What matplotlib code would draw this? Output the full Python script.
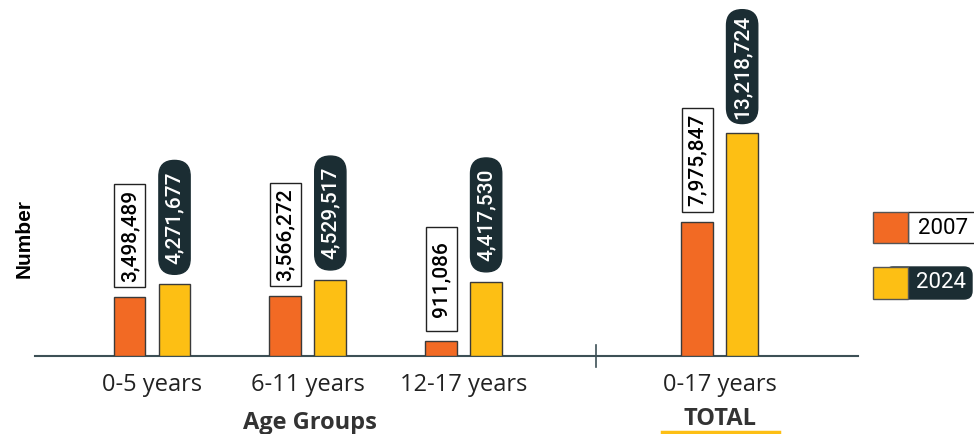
import matplotlib
matplotlib.use("Agg")
import matplotlib.pyplot as plt
from matplotlib.patches import Rectangle, FancyBboxPatch, BoxStyle
from matplotlib.lines import Line2D
from matplotlib.transforms import Affine2D, blended_transform_factory
import numpy as np

# ---- data ----
categories = ["0-5 years", "6-11 years", "12-17 years", "0-17 years"]
years = ["2007", "2024"]
values_2007 = [3498489, 3566272, 911086, 7975847]
values_2024 = [4271677, 4529517, 4417530, 13218724]
total_label = "TOTAL"
x_title = "Age Groups"
y_title = "Number"

# ---- style ----
ORANGE = "#F26A24"
YELLOW = "#FDBF14"
DARK = "#1B2D33"
AXIS = "#3D5056"
LABEL_FONT = ["Roboto", "DejaVu Sans"]
CAT_FONT = ["Open Sans", "DejaVu Sans"]

W, H = 974, 434
fig = plt.figure(figsize=(W / 100, H / 100), dpi=100)
PX = Affine2D().scale(1 / W, -1 / H).translate(0, 1) + fig.transFigure

ax = fig.add_axes([35 / W, 78 / H, 823 / W, 356 / H])

pos = np.array([0, 1, 2, 3.643])
bw = 0.205
off = 0.1444
ax.bar(pos - off, values_2007, bw, color=ORANGE, edgecolor="#3a3a3a", linewidth=1, zorder=3)
ax.bar(pos + off, values_2024, bw, color=YELLOW, edgecolor="#3a3a3a", linewidth=1, zorder=3)
ax.set_xlim(-0.751, 4.531)
ax.set_ylim(0, 21.13e6)

FS = 15.0


def make_box(length_pt, thick_pt, round_ends):
    # fixed-size box centred on the text (sizes in points, scaled via mutation_size)
    def style(x0, y0, width, height, mutation_size):
        k = mutation_size / FS
        L = length_pt * k
        T = thick_pt * k
        cx = x0 + width / 2
        cy = y0 + height / 2
        bx0, by0 = cx - L / 2, cy - T / 2
        if round_ends:
            rs = (T / 2) / mutation_size
            return BoxStyle.Round(pad=0, rounding_size=rs)(bx0, by0, L, T, mutation_size)
        return BoxStyle.Square(pad=0)(bx0, by0, L, T, mutation_size)
    return style


BOX_L, PILL_L, THICK = 74.5, 82.0, 22.5   # points
GAP = 7.0                                   # points between bar top and box
for x, v in zip(pos - off, values_2007):
    ax.annotate(f"{v:,}", xy=(x, v), xytext=(0, GAP + BOX_L / 2), textcoords="offset points",
                rotation=90, ha="center", va="center", fontsize=FS, family=LABEL_FONT,
                fontweight="medium", color="black", zorder=5,
                bbox=dict(boxstyle=make_box(BOX_L, THICK, False), fc="white", ec="#222", lw=1))
for x, v in zip(pos + off, values_2024):
    ax.annotate(f"{v:,}", xy=(x, v), xytext=(0, GAP + PILL_L / 2), textcoords="offset points",
                rotation=90, ha="center", va="center", fontsize=FS, family=LABEL_FONT,
                fontweight="medium", color="white", zorder=5,
                bbox=dict(boxstyle=make_box(PILL_L, THICK, True), fc=DARK, ec=DARK, lw=1))

ax.set_xticks(pos, categories, fontsize=17, family=CAT_FONT, color="#222")
ax.tick_params(axis="x", length=0, pad=12)
ax.set_yticks([])
for s in ["left", "right", "top"]:
    ax.spines[s].set_visible(False)
ax.spines["bottom"].set_color(AXIS)
ax.spines["bottom"].set_linewidth(1.5)

sep = blended_transform_factory(ax.transData, ax.transAxes)
ax.plot([2.85, 2.85], [-0.032, 0.032], transform=sep, color=AXIS, lw=1.2, clip_on=False)

# titles
fig.text(24, 239, y_title, transform=PX, rotation=90, ha="center", va="center",
         fontsize=15, fontweight="bold", family=["Liberation Sans", "DejaVu Sans"], color="black")
fig.text(310, 411, x_title, transform=PX, ha="center", va="top",
         fontsize=17, fontweight="bold", family=CAT_FONT, color="#333")
fig.text(720, 425, total_label, transform=PX, ha="center", va="baseline",
         fontsize=17, fontweight="bold", family=CAT_FONT, color="#333")
fig.add_artist(Line2D([662, 779], [432, 432], transform=PX, color=YELLOW, lw=2.5))

# legend
fig.add_artist(Rectangle((908, 212), 70, 31, transform=PX, fc="white", ec="#222", lw=1))
fig.add_artist(Rectangle((873, 212), 35, 31, transform=PX, fc=ORANGE, ec="#555", lw=1))
fig.add_artist(FancyBboxPatch((885, 267), 87, 32, boxstyle="round,pad=0,rounding_size=8",
                              transform=PX, fc=DARK, ec=DARK, lw=1))
fig.add_artist(Rectangle((873, 267), 35, 32, transform=PX, fc=YELLOW, ec="#555", lw=1))
fig.text(943, 228, years[0], transform=PX, ha="center", va="center", fontsize=16,
         family=["Roboto", "DejaVu Sans"], color="black")
fig.text(941, 283, years[1], transform=PX, ha="center", va="center", fontsize=16,
         family=["Roboto", "DejaVu Sans"], color="white")

fig.savefig("out.png", dpi=100)
